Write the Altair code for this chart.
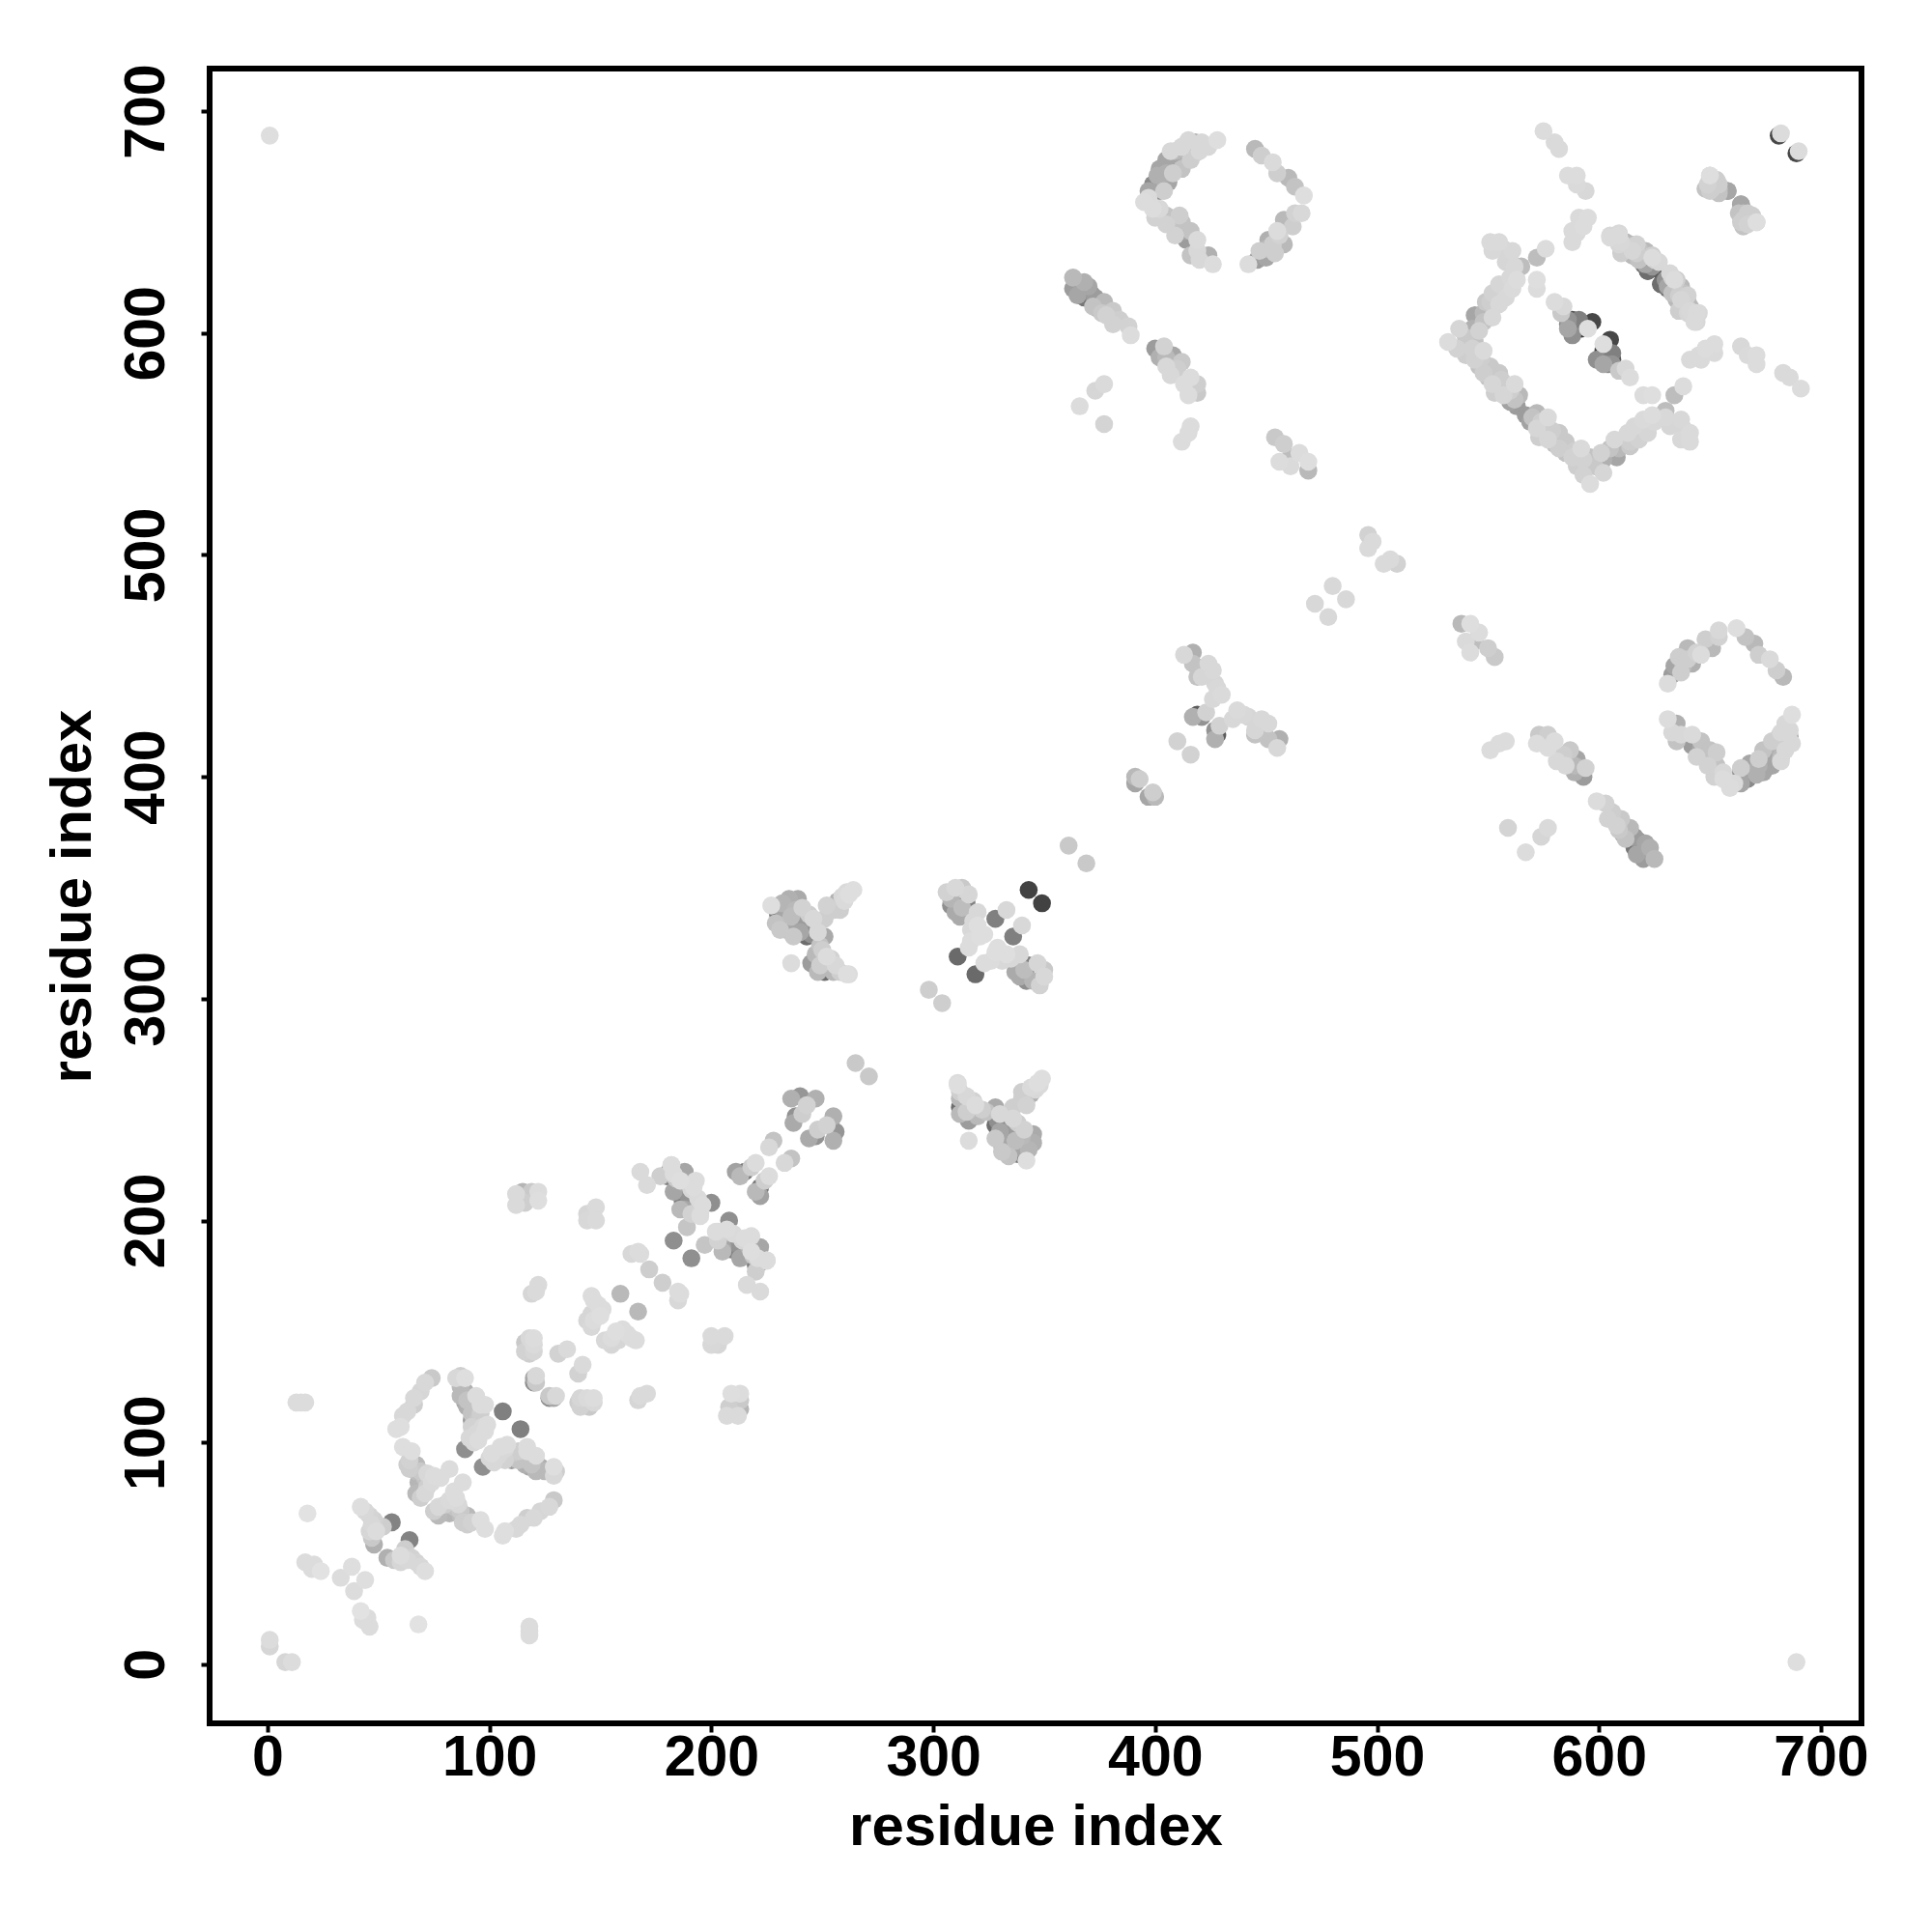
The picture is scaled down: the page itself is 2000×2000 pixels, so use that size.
import altair as alt
import pandas as pd

# Contact pairs (i, j, level), i < j. Level is contact strength, 0 = faint, 1 = strong.
ends = [(1,11,.03),(1,8,.06),(1,689,.02),(18,68,.0),(15,118,.03),(13,118,.03),(17,118,.03)]
n_term = [(17,46,.03),(21,45,.03),(24,42,.0),(20,43,.03),(33,39,.03),(38,44,.02),
          (42,71,.02),(44,69,.05),(46,67,.07),(48,65,.08),(47,63,.05),(49,60,.03),(47,57,.12),
          (48,54,.25),(46,60,.06),(56,64,.48),(52,62,.1)]
loop_a = [(74,129,.12),(71,127,.05),(69,123,.06),(66,120,.05),(66,117,.1),(63,114,.05),(61,112,.05),
          (60,107,.02),(58,106,.02),(61,98,.02),(65,96,.02),(64,92,.08),(67,90,.2),(67,87,.18),
          (69,87,.12),(72,86,.05),(75,85,.03),(78,84,.03),(82,88,.03),(70,78,.2),(67,77,.2),
          (72,80,.1),(64,88,.1),(63,90,.1),(69,75,.1),(71,77,.05),(74,82,.04),(68,82,.22),(71,84,.15)]
loop_b = [(85,129,.05),(87,130,.1),(89,129,.02),(87,125,.2),(87,121,.2),(90,119,.15),(90,116,.25),
          (94,121,.03),(92,113,.15),(96,117,.03),(98,117,.03),(95,110,.12),(97,107,.05),(92,107,.08),
          (94,104,.05),(91,102,.05),(89,97,.42),(106,114,.5),(95,101,.03),(99,108,.03),(93,100,.05),
          (96,113,.1),(98,105,.03),(89,123,.25),(92,110,.35),(89,118,.3)]
mid_a = [(112,212,.04),(115,213,.22),(119,213,.12),(122,209,.02),(112,207,.04),(116,208,.1),(122,213,.03),
         (144,203,.06),(148,206,.04),(144,200,.05),(148,200,.04),(122,171,.04),(119,167,.06),(121,168,.04),
         (118,147,.05),(120,147,.03),(116,145,.12),(120,144,.04),(116,141,.08),(118,140,.1),(120,141,.06),
         (131,140,.08),(135,142,.04),(120,129,.3),(121,130,.05),(120,127,.42),(121,127,.12)]
mid_b = [(146,166,.03),(147,164,.03),(149,162,.03),(151,160,.03),(146,158,.06),(144,155,.06),(147,155,.03),
         (146,152,.05),(150,157,.02),(159,167,.2),(164,185,.05),(168,185,.03),(172,178,.1),
         (167,186,.03)]
x200 = [(168,222,.04),(171,216,.04),(177,220,.1),(182,225,.04),(188,222,.3),(180,220,.5),(184,219,.12),
        (183,213,.3),(187,209,.5),(191,214,.06),(194,210,.04),(200,208,.42),(195,203,.06),(189,197,.14),
        (183,191,.42),(186,218,.02),(182,225,.03),(183,221,.03),(188,217,.25),(192,215,.03),(196,207,.03),
        (193,218,.03),(187,211,.6),(185,215,.55),(184,213,.45),(186,205,.2),(188,205,.3),(191,203,.08),
        (195,202,.03),(190,210,.4),(181,222,.35),(189,214,.4)]
pair_220 = [(211,222,.32),(215,222,.55),(220,226,.03),(218,224,.1),(226,233,.05),(228,236,.15),(213,220,.2)]
pair_250 = [(236,255,.25),(240,256,.38),(247,255,.25),(243,252,.08),(238,247,.4),(241,248,.1),(237,244,.28),
            (265,271,.12)]
x330 = [(264,349,.02),(261,348,.04),(259,346,.05),(257,344,.25),(251,336,.1),(246,336,.05),(251,328,.28),
        (248,330,.05),(247,320,.2),(252,319,.03),(247,316,.5),(251,312,.6),(255,312,.2),(261,311,.02),
        (262,311,.03),(236,316,.03),(253,315,.45),(249,315,.1),(227,342,.02),(229,334,.15),(231,331,.12),
        (233,338,.3),(239,345,.28),(235,345,.25),(241,341,.08),(237,328,.12),(245,329,.42),(243,328,.6),
        (230,338,.55),(232,343,.22),(237,333,.7),(236,337,.18),(234,331,.3),(232,336,.5),(235,333,.45),
        (240,334,.35),(238,340,.2),(244,338,.1),(242,332,.55),(240,330,.3),(249,324,.15),(250,322,.1),
        (254,318,.08),(248,312,.2),(245,316,.35),(258,312,.1),(256,315,.05),(255,340,.1),(258,340,.1),
        (252,342,.08),(260,344,.04),(262,347,.02)]
x340 = [(310,350,.05),(306,348,.08),(313,350,.12),(308,345,.22),(308,342,.42),(310,339,.28),(313,341,.18),
        (315,343,.5),(316,347,.06),(312,337,.28),(320,339,.05),(318,335,.05),(317,331,.05),(320,333,.02),
        (317,326,.03),(316,323,.03),(321,328,.02),(323,329,.02),(328,336,.5),(333,340,.05),(311,319,.62),
        (343,349,.85),(298,304,.1),(361,369,.12)]
seg_400 = [(391,400,.2),(391,397,.3),(393,399,.1),(410,416,.08),(413,455,.05),(417,456,.25),(417,451,.15),
           (420,449,.32),(424,451,.05),(421,445,.06),(426,448,.05),(427,442,.06),(428,440,.05),(430,437,.04),
           (426,435,.05),(419,428,.7),(423,429,.08),(421,427,.4),(417,427,.25),(419,445,.15),
           (472,478,.05),(480,486,.05),(496,509,.08),(498,506,.04),(496,503,.04)]
arm_620 = [(363,625,.2),(363,620,.35),(366,621,.45),(370,621,.3),(368,616,.55),(373,616,.35),(377,614,.2),
           (374,611,.3),(381,610,.12),(384,606,.1),(381,604,.08),(388,603,.08),(389,599,.03),(368,623,.25),
           (371,618,.42),(376,609,.12),(400,593,.35),(404,594,.08),(408,590,.3),(412,587,.12),(405,589,.2),
           (405,585,.05),(407,581,.05),(413,577,.03),(416,580,.03),(419,577,.1),(419,573,.12),(415,572,.03),
           (377,577,.04),(373,574,.06),(366,567,.03),(377,559,.07),(416,558,.03),(415,555,.03),(412,551,.03),
           (454,553,.12),(458,550,.1),(456,542,.03),(461,540,.04),(465,546,.03),(469,542,.02),(469,538,.2),
           (461,544,.18),(365,617,.3),(372,612,.15),(378,608,.08),(402,589,.25),(410,584,.1),(417,575,.15)]
loop_660 = [(428,687,.02),(421,686,.05),(418,686,.25),(415,687,.05),(418,681,.12),(414,680,.25),(409,682,.2),
            (410,676,.3),(405,678,.3),(405,672,.25),(402,674,.3),(403,668,.32),(399,667,.45),(402,664,.4),
            (395,659,.03),(399,656,.03),(400,652,.08),(405,653,.15),(408,650,.25),(405,649,.08),(413,646,.3),
            (409,644,.08),(419,642,.04),(414,642,.35),(419,637,.05),(424,635,.25),(426,631,.03),(420,633,.05),
            (416,635,.15),(445,683,.2),(448,680,.1),(453,677,.04),(455,672,.1),(460,670,.2),(463,666,.15),
            (467,662,.02),(466,654,.05),(463,654,.08),(458,651,.2),(462,648,.1),(455,646,.03),(458,640,.2),
            (451,642,.25),(450,638,.2),(450,634,.3),(446,633,.35),(442,631,.03),(454,636,.1),(447,637,.1),
            (397,664,.3),(401,671,.25),(407,682,.05),(412,684,.05),(404,664,.1),(408,672,.1),(412,674,.15),
            (416,678,.1),(420,682,.05),(424,684,.05),(406,668,.3),(397,661,.04),(402,656,.05),(412,650,.15),
            (416,646,.15),(411,653,.1),(453,640,.1),(456,644,.08)]
far_a = [(575,691,.03),(580,686,.04),(582,683,.04),(586,671,.03),(590,671,.03),(590,667,.04),(594,664,.05),
         (595,652,.03),(591,652,.04),(588,646,.04),(588,641,.04),(593,648,.03),(590,645,.04),
         (650,671,.08),(649,667,.08),(653,669,.1),(651,665,.1),(658,664,.3),(664,658,.3),(663,654,.15),
         (667,654,.1),(664,650,.1),(671,650,.02),(681,689,.82),(682,690,.03),(648,665,.15),(654,665,.15)]
arm_630 = [(605,644,.05),(609,645,.05),(612,641,.2),(609,640,.06),(618,638,.15),(615,635,.2),(624,634,.03),
           (622,628,.82),(620,631,.55),(630,625,.88),(633,625,.08),(628,622,.6),(637,621,.2),(633,618,.15),
           (640,614,.2),(637,615,.06),(644,609,.04),(643,605,.04),(626,629,.7),(631,621,.3),(610,636,.1),
           (613,638,.15),(617,634,.25),(621,633,.3),(624,630,.4),(632,627,.05),(636,617,.1),(635,624,.1),
           (640,617,.08),(641,610,.05),(639,611,.1)]
square = [(551,641,.04),(555,641,.04),(552,637,.05),(557,638,.06),(561,637,.05),(558,632,.06),(565,630,.18),
          (562,630,.05),(572,634,.18),(576,638,.03),(572,624,.02),(572,620,.03),(560,625,.05),(558,621,.06),
          (555,618,.08),(551,614,.1),(548,609,.2),(546,606,.48),(544,608,.3),(549,610,.2),(548,605,.15),
          (537,602,.06),(532,596,.03),(540,598,.12),(536,593,.08),(544,596,.15),(540,590,.1),(548,592,.04),
          (544,588,.08),(551,585,.12),(548,582,.1),(555,582,.12),(552,577,.06),(562,577,.04),(558,576,.25),
          (564,572,.2),(557,572,.06),(560,569,.32),(563,567,.35),(543,602,.25),(546,601,.08),(553,612,.12),
          (542,590,.2),(541,595,.3),(546,585,.15),(554,575,.2),(558,572,.3),(552,607,.05),(555,613,.05),
          (558,616,.05),(561,620,.04),(563,624,.03),(555,622,.06),(552,618,.08),(549,614,.12),(543,593,.08),
          (547,589,.1),(550,580,.15),(553,573,.1),(556,579,.1),(560,574,.1),(562,570,.15)]
core_600 = [(580,614,.03),(584,612,.05),(588,606,.75),(591,606,.5),(597,605,.82),(586,602,.3),(592,602,.88),
            (595,602,.02),(588,599,.42),(590,604,.8),(586,606,.4),(589,603,.7),(586,604,.45),(583,609,.12)]

clusters = [ends, n_term, loop_a, loop_b, mid_a, mid_b, x200, pair_220, pair_250, x330, x340, seg_400,
            arm_620, loop_660, far_a, arm_630, square, core_600]
axis_ticks = [0, 100, 200, 300, 400, 500, 600, 700]

rows = [t for c in clusters for t in c]
upper = pd.DataFrame(rows, columns=["a", "b", "level"])
df = pd.concat([upper.rename(columns={"a": "x", "b": "y"}),
                upper.rename(columns={"a": "y", "b": "x"})], ignore_index=True)
df = df.sort_values("level", ascending=False, kind="stable")

def axis(**kw):
    return alt.Axis(values=axis_ticks, grid=False, domain=False, tickColor="black", tickWidth=4, tickSize=9,
                    labelFont="Liberation Sans", labelFontWeight="bold", labelFontSize=59, labelColor="black",
                    titleFont="Liberation Sans", titleFontWeight="bold", titleFontSize=60, titleColor="black",
                    labelOverlap=False, **kw)

chart = (
    alt.Chart(df)
    .mark_circle(size=345, opacity=1, stroke=None)
    .encode(
        x=alt.X("x:Q", title="residue index", scale=alt.Scale(domain=[-26.1, 718.3], nice=False, zero=False),
                axis=axis(labelPadding=-3, titlePadding=13, labelFlush=False)),
        y=alt.Y("y:Q", title="residue index", scale=alt.Scale(domain=[-26.6, 719.2], nice=False, zero=False),
                axis=axis(labelAngle=270, labelAlign="center", labelBaseline="alphabetic", labelPadding=39,
                          titlePadding=16, labelFlush=False)),
        color=alt.Color("level:Q", legend=None,
                        scale=alt.Scale(domain=[0, 1], range=["#e2e2e2", "#2a2a2a"])),
        order=alt.Order("level:Q", sort="descending"),
    )
    .properties(width=1710, height=1713, autosize=alt.AutoSizeParams(type="none"),
                padding={"left": 209, "top": 63, "right": 60, "bottom": 200}, background="white")
    .configure_view(stroke="black", strokeWidth=6, fill="white")
)
chart.save("out.html", embed_options={"renderer": "svg", "actions": False})
